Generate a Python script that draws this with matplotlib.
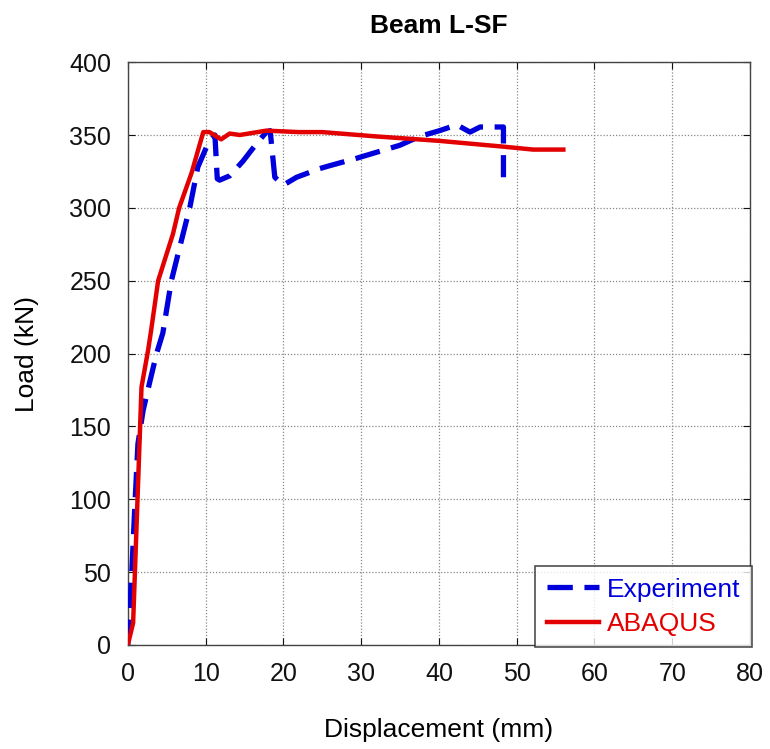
import matplotlib
matplotlib.use("Agg")
import matplotlib.pyplot as plt

plt.rcParams['font.family'] = ['Liberation Sans', 'DejaVu Sans']

# Experimental load-displacement response
exp_disp = [0.0, 0.04, 0.47, 0.9, 1.3, 1.97, 2.8, 3.7, 4.5, 5.6, 7.1, 8.0, 9.0, 10.3, 11.2,
            11.5, 11.8, 13.1, 14.8, 16.1, 17.8, 18.3, 18.9, 20.0, 21.7, 24.7, 26.0, 29.4,
            35.0, 37.5, 40.1, 42.3, 44.0, 45.3, 48.3, 48.3]
exp_load = [0, 8, 45, 95, 138, 161, 180, 200, 214, 250, 282, 301, 328, 344, 350,
            320, 319, 322, 332, 341, 352, 353, 321, 315.6, 321, 327, 329, 334,
            343, 349, 353, 357, 352, 355.5, 355.5, 321]

# Finite element (ABAQUS) prediction
fe_disp = [0.0, 0.68, 1.76, 2.6, 3.0, 3.9, 5.8, 6.6, 8.2, 9.7, 10.5, 12.0, 13.1, 14.4,
           17.8, 22.0, 25.0, 32.0, 40.0, 48.3, 52.1, 56.0]
fe_load = [0, 15, 177, 202, 216, 250, 282, 300, 324, 352, 352, 347, 351, 350,
           353, 352, 352, 349, 346, 342, 340, 340]

x_ticks = [0, 10, 20, 30, 40, 50, 60, 70, 80]
y_ticks = [0, 50, 100, 150, 200, 250, 300, 350, 400]

fig = plt.figure(figsize=(7.7, 7.49), dpi=100)
ax = fig.add_axes([0.166, 0.139, 0.808, 0.778])

ax.plot(exp_disp, exp_load, color='#0000dd', lw=3.8, ls=(0, (4.8, 2.2)),
        label='Experiment', zorder=3)
ax.plot(fe_disp, fe_load, color='#e30000', lw=3.2, label='ABAQUS', zorder=4)

ax.set_xlim(0, 80)
ax.set_ylim(0, 400)
ax.set_xticks(x_ticks)
ax.set_yticks(y_ticks)
ax.tick_params(direction='in', length=5, labelsize=18, colors='#111111',
               top=True, right=True)
ax.tick_params(axis='y', pad=12)
ax.tick_params(axis='x', pad=12)
ax.grid(True, color='#888888', ls=(0, (1, 1.5)), lw=0.9)
for s in ax.spines.values():
    s.set_color('#444444')
    s.set_linewidth(1.0)

ax.set_title('Beam L-SF', fontsize=19, fontweight='bold', pad=21)
ax.set_xlabel('Displacement (mm)', fontsize=19, labelpad=23)
ax.set_ylabel('Load (kN)', fontsize=19, labelpad=22)

leg = ax.legend(loc='lower right', bbox_to_anchor=(1.003, -0.004), fontsize=19,
                frameon=True, fancybox=False, handlelength=2.0, borderpad=0.42,
                labelspacing=0.4, handletextpad=0.3, borderaxespad=0.0)
leg.get_frame().set_edgecolor('#222222')
leg.get_frame().set_linewidth(1.2)
for txt, c in zip(leg.get_texts(), ['#0000dd', '#e30000']):
    txt.set_color(c)

fig.savefig('out.png', dpi=100)
